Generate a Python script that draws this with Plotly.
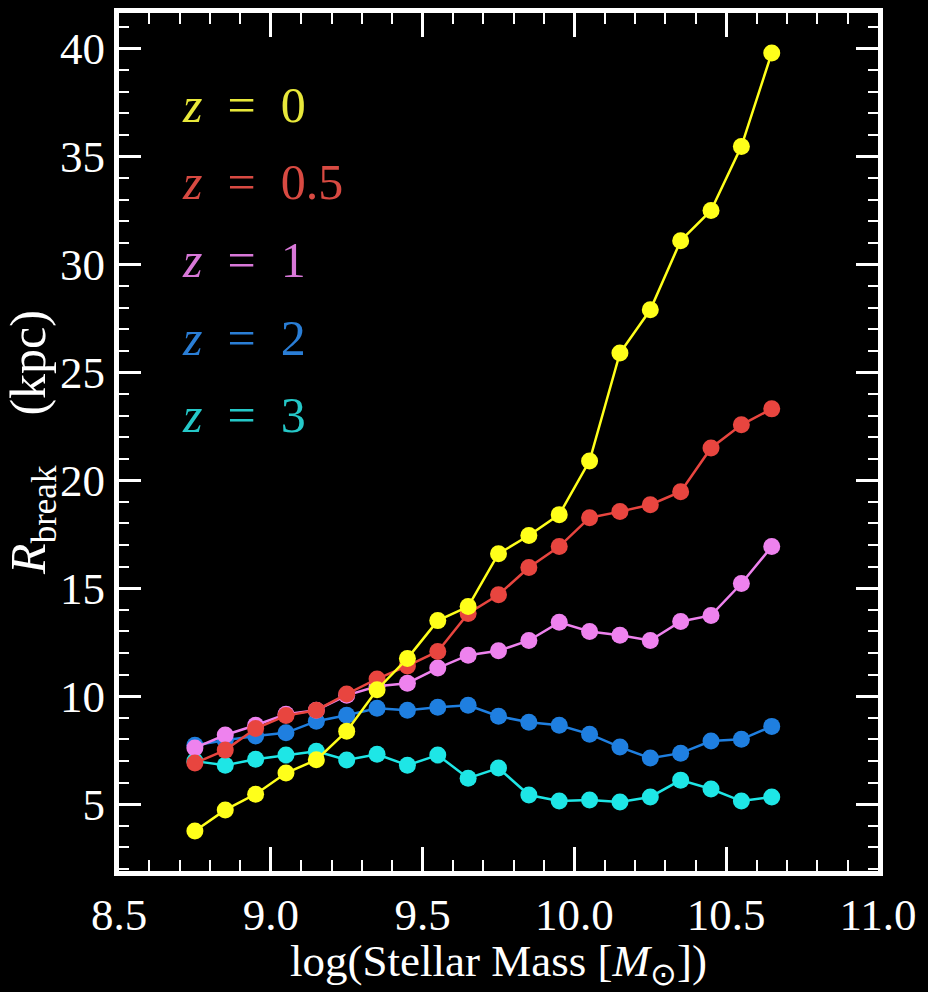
import plotly.graph_objects as go

log_mass = [8.75, 8.85, 8.95, 9.05, 9.15, 9.25, 9.35, 9.45, 9.55, 9.65,
            9.75, 9.85, 9.95, 10.05, 10.15, 10.25, 10.35, 10.45, 10.55, 10.65]

r_z0 = [3.75, 4.73, 5.46, 6.44, 7.05, 8.38, 10.3, 11.75, 13.5, 14.15,
        16.6, 17.44, 18.41, 20.9, 25.9, 27.9, 31.1, 32.5, 35.47, 39.8]
r_z05 = [6.9, 7.5, 8.5, 9.1, 9.35, 10.1, 10.8, 11.4, 12.07, 13.83,
         14.7, 15.96, 16.93, 18.27, 18.55, 18.87, 19.47, 21.5, 22.57, 23.31]
r_z1 = [7.6, 8.2, 8.65, 9.16, 9.35, 10.04, 10.46, 10.6, 11.3, 11.9,
        12.1, 12.58, 13.42, 13.0, 12.82, 12.58, 13.46, 13.74, 15.22, 16.93]
r_z2 = [7.73, 7.96, 8.15, 8.3, 8.84, 9.12, 9.44, 9.35, 9.49, 9.58,
        9.07, 8.79, 8.65, 8.24, 7.64, 7.13, 7.36, 7.92, 8.0, 8.6]
r_z3 = [6.99, 6.8, 7.08, 7.27, 7.45, 7.04, 7.31, 6.8, 7.27, 6.2,
        6.67, 5.42, 5.14, 5.19, 5.1, 5.33, 6.11, 5.7, 5.14, 5.33]

series_labels = ["0", "0.5", "1", "2", "3"]
series_colors = ["#ffff1a", "#e8453f", "#ee82ee", "#1f7fe0", "#1ee6e6"]
label_colors = ["#e8e83a", "#d84a42", "#d878d8", "#2a7ed6", "#25c8c8"]
series_values = [r_z0, r_z05, r_z1, r_z2, r_z3]

x_tickvals = [8.5, 9.0, 9.5, 10.0, 10.5, 11.0]
x_ticktext = ["8.5", "9.0", "9.5", "10.0", "10.5", "11.0"]
y_tickvals = [5, 10, 15, 20, 25, 30, 35, 40]

FONT = "Liberation Serif"

fig = go.Figure()
# draw in reverse so z=0 is on top
for lab, col, vals in reversed(list(zip(series_labels, series_colors, series_values))):
    fig.add_trace(go.Scatter(
        x=log_mass, y=vals, mode="lines+markers",
        line=dict(color=col, width=2.5),
        marker=dict(color=col, size=17, line=dict(width=0)),
        name=f"z = {lab}", showlegend=False,
    ))

for i, (lab, col) in enumerate(zip(series_labels, label_colors)):
    fig.add_annotation(
        xref="paper", yref="paper", x=0.08, y=0.893 - i * 0.0905,
        xanchor="left", yanchor="middle", showarrow=False,
        text=f"<i>z</i>\u2002=\u2002{lab}",
        font=dict(family=FONT, size=50, color=col),
    )

axis_common = dict(
    showgrid=False, zeroline=False, showline=True, linecolor="white",
    linewidth=5, mirror="allticks", ticks="inside", tickcolor="white",
    tickwidth=2.5, tickfont=dict(family=FONT, size=45, color="white"),
    automargin=False,
)

fig.update_xaxes(
    range=[8.5, 11.0], tickvals=x_tickvals, ticktext=x_ticktext, ticklen=24,
    minor=dict(ticks="inside", dtick=0.1, tick0=8.5, ticklen=11,
               tickcolor="white", tickwidth=2),
    title=dict(text="log(Stellar Mass [<i>M</i><sub>⊙</sub>])",
               font=dict(family=FONT, size=45, color="white"), standoff=16),
    **axis_common,
)
fig.update_yaxes(
    range=[1.9, 41.65], tickvals=y_tickvals, ticklen=22,
    minor=dict(ticks="inside", dtick=1, tick0=0, ticklen=10,
               tickcolor="white", tickwidth=2),
    title=dict(text="<i>R</i><sub>break</sub>\u2003(kpc)",
               font=dict(family=FONT, size=50, color="white"), standoff=10),
    **axis_common,
)

fig.update_layout(
    width=928, height=992,
    margin=dict(l=119, r=50, t=13, b=121),
    paper_bgcolor="black", plot_bgcolor="black",
    showlegend=False,
)

fig.write_html("out.html")
